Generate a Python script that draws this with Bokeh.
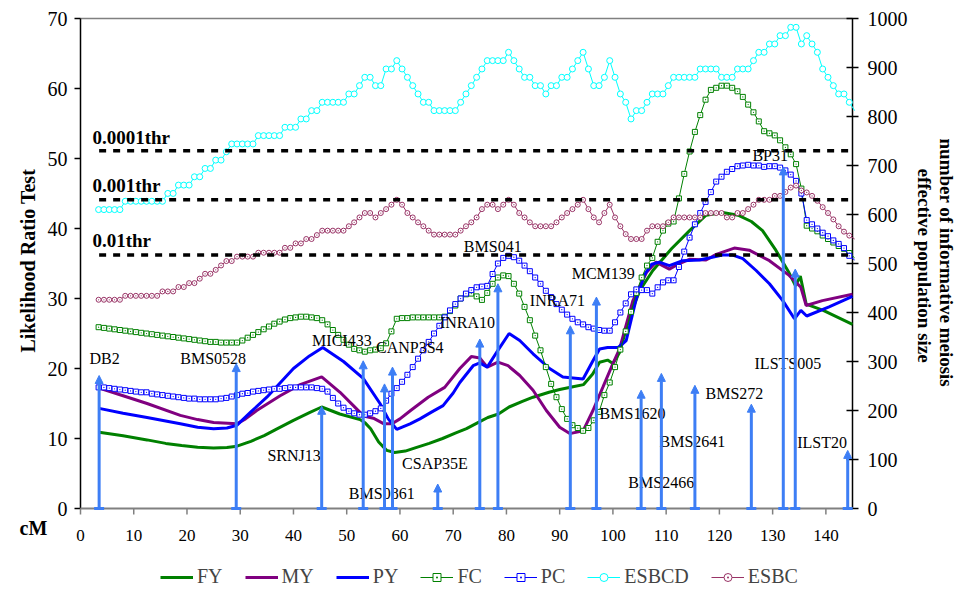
import math
from bokeh.plotting import figure
from bokeh.models import (Range1d, Legend, LegendItem, Arrow, NormalHead, ColumnDataSource)
from bokeh.core.properties import value
from bokeh.embed import file_html
from bokeh.resources import INLINE

# ---------------- data ----------------
grid_start = 3.4          # cM of first dense point
grid_step = 1.0           # dense series sampled every cM

ESBCD = [610,610,610,610,610,
         627,627,627,627,627,627,627,627,
         643,643, 660,660,660, 677,677, 694,694, 711,711, 728,
         744,744,744,744,744, 761,761,761,761,761, 778,778,778,
         795,795, 812,812, 829,829,829,829,829, 846,846, 863, 880,880,
         863,863, 897,897, 914,897,880,863,846, 829,829,
         812,812,812,812,812, 829,846,863,880,897, 914,914,914,914,
         931,914,897, 880,880,863,863,846,863,863,880,880,
         897,914,931,897,863,863,880,914,880,846,829,795,812,812,829,
         846,846,846,863, 880,880,880,880,880, 897,897,897,897,
         880,880,880, 897,897,897,
         914,931,931,948,948,965,965,982,982,948,965,948,931,897,880,863,846,846,829,812]

ESBC = [426,426,426,426,426, 434,434,434,434,434,434,434, 443,443,443,
        452,452, 460,460, 469, 479,479, 487, 496, 505,505,
        514,514,514,514, 522,522,522,522,522, 532,532, 541,541, 550,550, 558,
        567,567,567,567,567,
        576,584,594,603,603,594,603,611,620,630,620,603,594,584,576,567,
        559,559,559,559,559,
        567,576,584,594,611,620,620,611,620,630,620,603,594,584,
        576,576,576,576,
        584,594,603,611,620,630,611,594,584,603,620,594,576,560,
        550,550,550, 567, 576,576,576, 584,
        594,594,594,594,594,594, 603,603,603,603, 594,594, 603,603,
        611,620,630,630,630,638,638,646,655,659,649,645,638,628,615,603,590,576,565,557,550]

FC = [25.9,25.8,25.7,25.6,25.5,25.4,25.3,25.2,25.1,25.0,
      24.9,24.8,24.7,24.6,24.5,24.4,24.3,24.2,24.1,24.0,
      23.9,23.8,23.8,23.7,23.7,23.7,23.7,24.0,24.4,24.8,
      25.2,25.6,26.0,26.4,26.7,27.0,27.2,27.3,27.4,27.4,
      27.3,27.2,26.9,26.3,25.5,24.8,24.1,23.4,22.8,22.6,
      22.4,22.6,22.7,22.9,23.6,25.3,27.1,27.2,27.2,27.3,
      27.3,27.3,27.3,27.3,27.3,27.4,28.2,29.0,30.0,30.6,
      30.7,30.3,29.8,30.8,32.1,33.0,33.3,33.2,32.1,30.7,
      28.8,26.9,24.7,22.6,20.2,17.8,15.9,14.2,12.8,11.9,
      11.5,11.1,11.5,12.6,13.8,16.2,18.0,20.2,22.7,25.3,
      28.1,30.8,33.0,34.7,35.8,38.1,39.7,40.7,41.0,44.3,
      47.8,51.0,53.8,56.2,58.4,59.8,60.1,60.4,60.4,60.1,
      59.6,58.8,57.7,56.6,55.3,53.9,53.6,53.3,52.6,51.6,
      50.6,49.2,45.7,40.4,40.0,39.6,39.0,38.5,38.0,37.5,
      37.1,36.5,35.8]

PC = [17.3,17.3,17.2,17.1,17.0,16.9,16.8,16.7,16.6,16.6,
      16.4,16.3,16.2,16.1,16.0,15.9,15.8,15.7,15.7,15.6,
      15.6,15.6,15.6,15.7,15.8,16.0,16.2,16.4,16.5,16.7,
      16.8,16.9,17.0,17.1,17.1,17.2,17.3,17.3,17.3,17.3,
      17.3,17.2,17.1,16.7,15.8,15.0,14.4,13.9,13.6,13.4,
      13.4,13.6,13.9,14.3,15.4,16.4,17.2,18.1,19.1,20.2,
      21.4,22.6,23.8,25.0,26.1,27.3,28.3,29.2,30.0,30.7,
      31.2,31.6,31.7,31.8,33.5,35.0,35.8,36.1,35.9,35.4,
      34.7,33.9,33.0,32.1,31.1,30.2,29.2,28.4,27.7,27.1,
      26.6,26.3,25.9,25.7,25.5,25.4,25.4,26.6,28.0,29.3,
      30.6,31.3,31.2,31.2,30.7,31.6,32.3,32.6,32.6,34.5,
      36.7,38.7,40.6,42.2,43.8,45.2,46.7,47.4,48.1,48.5,
      48.9,49.0,49.1,49.0,49.0,48.8,48.9,48.9,48.7,48.3,
      47.7,46.8,45.0,41.2,40.6,40.0,39.4,38.9,38.3,37.8,
      37.2,36.1,35.5]

FY_cm = [3.5,8,12.5,16,19,22,25,27.5,29.4,32,34.5,37,40,43,45.3,48.7,52.5,53.5,54.5,56,57.5,59,
         61,63,65.5,68,70.5,72.5,75,76.5,78.5,80.5,83,85,88,90,92.5,94.5,96.2,97.5,99,100,101.25,
         103,105,107.5,111,114.4,117.5,120.6,123.5,126,128.1,130.6,133,134.3,135.2,136.3,139.5,145]
FY = [10.9,10.4,9.8,9.3,9.0,8.75,8.65,8.7,8.9,9.6,10.4,11.4,12.6,13.7,14.5,13.5,12.7,12.2,11.4,9.5,8.3,8.0,
      8.2,8.7,9.3,10.0,10.8,11.4,12.4,13.0,13.5,14.5,15.3,15.9,16.6,17.0,17.4,17.7,19.2,20.9,21.2,20.7,22.3,
      27.0,31.1,34.0,37.1,39.7,41.9,42.3,41.9,41.0,39.7,36.9,33.8,31.8,33.2,29.2,28.3,26.3]

MY_cm = [3.5,8,12.5,18.75,22,25,29.4,31,33.1,37.5,41.25,45.3,48.75,51.25,53.2,55,57,58.5,60,62,65.3,
         68.4,71.25,73.4,75,76.4,78.4,80.3,82.5,85,87.5,90,91.9,94.4,96.25,98.1,100,101.25,103.75,
         106.3,108.1,110.6,112.5,114.35,117.5,119.4,122.8,125.6,129.4,133.1,135.3,136.3,139.35,145]
MY = [17.2,16.1,15.0,13.3,12.7,12.3,12.1,12.8,14.0,16.1,17.7,18.8,16.6,14.7,13.2,12.9,12.1,12.1,12.8,14.0,15.9,
      17.3,20.0,21.7,21.5,20.2,20.9,20.4,19.0,16.9,14.0,11.6,10.7,11.1,14.0,17.3,20.7,22.8,29.7,
      33.7,35.2,34.2,35.0,35.6,35.5,36.3,37.2,36.9,35.4,33.3,31.6,29.0,29.7,30.6]

PY_cm = [3.5,8,12.5,18.75,22,25,27.5,29.4,32,35,40,43,45.5,49.4,53.1,56.25,57.8,59.4,61.9,63.75,66,68.1,
         70,71.25,73.75,75,76.4,78.4,80.5,82.5,85,88.1,90.6,94.4,96.25,97.5,99,101,102.5,104.4,106,
         107.3,108.7,110.6,113.1,116.25,120.6,122.5,124.4,126.9,129.4,131.9,134.1,135.3,136.4,140.6,145]
PY = [14.3,13.6,13.0,12.1,11.6,11.4,11.5,11.9,13.8,15.9,20.0,21.8,23.0,21.0,18.6,15.0,12.8,11.3,12.1,12.8,13.8,14.7,
      16.5,18.0,20.4,20.8,20.2,22.6,25.0,24.0,22.1,20.0,18.8,18.5,21.1,22.8,23.0,23.0,24.0,30.0,33.5,
      34.9,35.2,34.7,35.4,35.5,36.2,36.2,35.7,34.0,32.1,29.7,27.1,28.3,27.5,28.8,30.3]

marker_names = ["DB2","BMS0528","SRNJ13","MICI433","BMS0861","CANP3S4","CSAP35E","INRA10","BMS041",
                "INRA71","MCM139","BMS1620","BMS2466","BMS2641","BMS272","BP31","ILSTS005","ILST20"]
marker_cm = [3.5,29.25,45.3,53.1,57.1,58.6,67.1,75.0,78.4,92.0,96.9,105.3,109.1,115.4,126.0,132.0,134.25,144.1]
marker_lrt = [19.0,20.7,14.6,21.1,17.8,20.2,3.5,24.2,32.1,26.1,30.2,16.9,19.3,17.6,14.9,48.8,34.2,8.3]

thr_names = ["0.0001thr","0.001thr","0.01thr"]
thr_values = [51.1,44.1,36.2]

x_ticks = [0,10,20,30,40,50,60,70,80,90,100,110,120,130,140]
x_tick_labels = [str(t) for t in x_ticks]
y_ticks = [0,10,20,30,40,50,60,70]
y_tick_labels = [str(t) for t in y_ticks]
r_ticks = [0,100,200,300,400,500,600,700,800,900,1000]
r_tick_labels = [str(t) for t in r_ticks]

X_MAX = 145
R_MAX = 1000

# ---------------- layout (positions, not data) ----------------
PX_CM = 772 / 145.0        # pixels per cM
PX_LRT = 7.0               # pixels per LRT unit
PX_R = 0.49                # pixels per right-axis unit
X0, X1 = -80 / PX_CM, 145 + 104 / PX_CM
Y0, Y1 = -82 / PX_LRT, 70 + 18 / PX_LRT
R0, R1 = -82 / PX_R, 1000 + 18 / PX_R

label_x = [1.7,18.75,35.1,43.5,50.4,55.5,60.4,67.5,72.0,84.4,92.25,97.5,102.9,108.75,117.4,126.2,126.6,134.6]
label_y = [21.4,21.4,7.6,24.0,2.1,23.0,6.4,26.6,37.4,29.7,33.6,13.6,3.7,9.6,16.4,50.4,20.7,9.4]
thr_label_y = [53.0,46.1,38.3]

SERIF = "Liberation Serif"
GREEN, PURPLE, BLUE = "#008000", "#800080", "#0000FF"
CYAN, PLUM, ARROW = "#00FFFF", "#993366", "#3D7EF5"

p = figure(width=956, height=590, x_range=Range1d(X0, X1), y_range=Range1d(Y0, Y1),
           output_backend="svg", toolbar_location=None,
           min_border_left=0, min_border_right=0, min_border_top=0, min_border_bottom=0)
p.extra_y_ranges = {"right": Range1d(R0, R1)}
p.grid.visible = False
p.outline_line_color = None
for ax in list(p.below) + list(p.left):
    ax.visible = False

def txt(x, y, t, size, align="center", bold=False, angle=0.0, y_range_name="default"):
    p.text(x=x, y=y, text=t, text_font=value(SERIF), text_font_size=size,
           text_font_style="bold" if bold else "normal", text_align=align,
           text_baseline="middle", text_color="black", angle=angle, y_range_name=y_range_name)

# frame border and axes on the library's scales
p.line([0, X_MAX], [70, 70], line_color="#808080", line_width=1.5)
# left axis
p.line([0, 0], [0, 70], line_color="black", line_width=1.5)
p.segment(x0=[0] * len(y_ticks), y0=y_ticks, x1=[-6 / PX_CM] * len(y_ticks), y1=y_ticks,
          line_color="black", line_width=1.5)
txt([-13 / PX_CM] * len(y_ticks), y_ticks, y_tick_labels, "20px", align="right")
txt([-53 / PX_CM], [35.4], ["Likelihood Ratio Test"], "20px", bold=True, angle=math.pi / 2)
# bottom axis
p.line([0, X_MAX], [0, 0], line_color="#808080", line_width=2)
p.segment(x0=x_ticks, y0=[0] * len(x_ticks), x1=x_ticks, y1=[-6 / PX_LRT] * len(x_ticks),
          line_color="#808080", line_width=1.5)
txt(x_ticks, [-27 / PX_LRT] * len(x_ticks), x_tick_labels, "17px")
txt([-47 / PX_CM], [-19 / PX_LRT], ["cM"], "20px", bold=True)
# right axis
p.line([X_MAX, X_MAX], [0, R_MAX], line_color="black", line_width=1.5, y_range_name="right")
p.segment(x0=[X_MAX - 6 / PX_CM] * len(r_ticks), y0=r_ticks, x1=[X_MAX + 6 / PX_CM] * len(r_ticks),
          y1=r_ticks, line_color="black", line_width=1.5, y_range_name="right")
txt([X_MAX + 15 / PX_CM] * len(r_ticks), r_ticks, r_tick_labels, "20px", align="left",
    y_range_name="right")
txt([X_MAX + 72 / PX_CM], [34.7], ["effective population size"], "19px", bold=True,
    angle=-math.pi / 2)
txt([X_MAX + 94 / PX_CM], [35.1], ["number of informative meiosis"], "19px", bold=True,
    angle=-math.pi / 2)

# series
gx = [grid_start + i * grid_step for i in range(len(FC))]
keep = [i for i, v in enumerate(gx) if v <= X_MAX]

def sub(vals):
    return [vals[i] for i in keep]

r_fy = p.line(FY_cm, FY, line_color=GREEN, line_width=3)
r_my = p.line(MY_cm, MY, line_color=PURPLE, line_width=3)
r_py = p.line(PY_cm, PY, line_color=BLUE, line_width=3)

r_fc_l = p.line(gx, FC, line_color=GREEN, line_width=1)
r_fc_m = p.scatter(sub(gx), sub(FC), marker="square_dot", size=5, line_color=GREEN,
                   fill_color="white", line_width=1)
r_pc_l = p.line(gx, PC, line_color=BLUE, line_width=1)
r_pc_m = p.scatter(sub(gx), sub(PC), marker="square_dot", size=5, line_color=BLUE,
                   fill_color="white", line_width=1)

r_cd_l = p.line(gx, ESBCD, line_color=CYAN, line_width=1, y_range_name="right")
r_cd_m = p.scatter(sub(gx), sub(ESBCD), marker="circle", size=6, line_color=CYAN, fill_color="white",
                   line_width=1, y_range_name="right")
r_c_l = p.line(gx, ESBC, line_color=PLUM, line_width=1, y_range_name="right")
r_c_m = p.scatter(sub(gx), sub(ESBC), marker="circle_dot", size=5, line_color=PLUM, fill_color="white",
                  line_width=1, y_range_name="right")

# thresholds
for tv in thr_values:
    p.line([3.5, X_MAX], [tv, tv], line_color="black", line_width=3.5, line_dash="7 7")
txt([2.25] * len(thr_names), thr_label_y, thr_names, "19px", align="left", bold=True)

# marker arrows
src = ColumnDataSource(dict(x0=marker_cm, y0=[0] * len(marker_cm), x1=marker_cm, y1=marker_lrt))
p.add_layout(Arrow(source=src, x_start="x0", y_start="y0", x_end="x1", y_end="y1",
                   line_color=ARROW, line_width=3,
                   end=NormalHead(size=8, fill_color=ARROW, line_color=ARROW, line_width=1)))
p.scatter(marker_cm, [0] * len(marker_cm), marker="dash", size=10, line_color=ARROW, line_width=3)
txt(label_x, label_y, marker_names, "16px", align="left")

legend = Legend(items=[
    LegendItem(label="FY", renderers=[r_fy]),
    LegendItem(label="MY", renderers=[r_my]),
    LegendItem(label="PY", renderers=[r_py]),
    LegendItem(label="FC", renderers=[r_fc_l, r_fc_m]),
    LegendItem(label="PC", renderers=[r_pc_l, r_pc_m]),
    LegendItem(label="ESBCD", renderers=[r_cd_l, r_cd_m]),
    LegendItem(label="ESBC", renderers=[r_c_l, r_c_m]),
], orientation="horizontal", location=(160, 2), border_line_alpha=0,
   background_fill_alpha=0, label_text_font=SERIF, label_text_font_size="20px",
   glyph_width=33, glyph_height=20, label_height=20, spacing=22, label_standoff=4,
   padding=0, margin=0)
p.add_layout(legend, "center")

open("out.html", "w").write(file_html(p, INLINE))
